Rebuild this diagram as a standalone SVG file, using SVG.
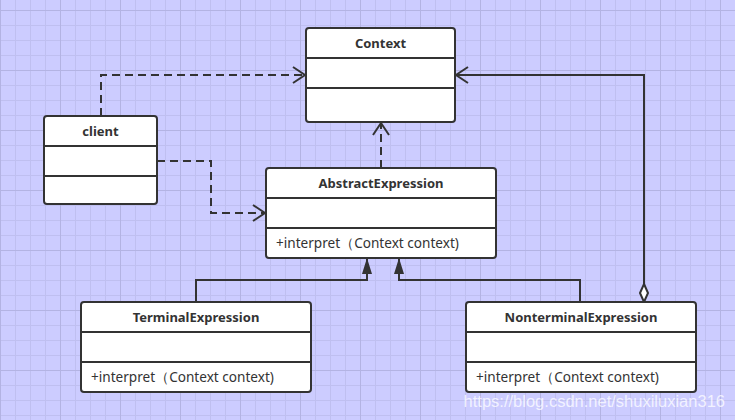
<svg xmlns="http://www.w3.org/2000/svg" width="735" height="420" viewBox="0 0 735 420">
<defs>
<pattern id="minor" x="0" y="10" width="15" height="15" patternUnits="userSpaceOnUse">
<path d="M0 0.5H15M0.5 0V15" fill="none" stroke="#bfbff0" stroke-width="1"/>
</pattern>
<pattern id="major" x="0" y="10" width="60" height="60" patternUnits="userSpaceOnUse">
<path d="M0 0.5H60M0.5 0V60" fill="none" stroke="#b3b3e3" stroke-width="1"/>
</pattern>
<marker id="open" markerWidth="16" markerHeight="20" refX="13" refY="10" orient="auto" markerUnits="userSpaceOnUse">
<path d="M1 2L13 10L1 18" fill="none" stroke="#333" stroke-width="2"/>
</marker>
<marker id="tri" markerWidth="12" markerHeight="18" refX="6" refY="1" orient="0" markerUnits="userSpaceOnUse">
<path d="M6 1L11 17L1 17Z" fill="#333"/>
</marker>
<marker id="diam" markerWidth="10" markerHeight="20" refX="5" refY="19" orient="0" markerUnits="userSpaceOnUse">
<path d="M5 1L9 10L5 19L1 10Z" fill="#fff" stroke="#333" stroke-width="2"/>
</marker>
</defs>
<style>
.box{fill:#fff;stroke:#333;stroke-width:2}
.div{stroke:#333;stroke-width:2}
.title{font-family:"Noto Sans","Liberation Sans",sans-serif;font-size:13px;font-weight:bold;fill:#333;text-anchor:middle}
.op{font-family:"Noto Sans","Liberation Sans",sans-serif;font-size:13.6px;fill:#333}
.dash{fill:none;stroke:#333;stroke-width:2;stroke-dasharray:8 5}
.solid{fill:none;stroke:#333;stroke-width:2}
</style>
<rect width="735" height="420" fill="#ccccff"/>
<rect width="735" height="420" fill="url(#minor)"/>
<rect width="735" height="420" fill="url(#major)"/>

<g id="connectors">
<path class="dash" d="M101 116V75H305" marker-end="url(#open)"/>
<path class="dash" d="M157 161H211V213H265" marker-end="url(#open)"/>
<path class="dash" d="M381 168V123" marker-end="url(#open)"/>
<path class="solid" d="M644 284V75H456" marker-end="url(#open)"/>
<path class="solid" d="M644 302V284" marker-start="url(#diam)"/>
<path class="solid" d="M196 302V280H367V258" marker-end="url(#tri)"/>
<path class="solid" d="M580 302V280H399V258" marker-end="url(#tri)"/>
</g>

<g id="Context">
<rect class="box" x="306" y="28" width="149" height="94" rx="3"/>
<path class="div" d="M306 58H455M306 88H455"/>
<text class="title" x="380.5" y="48">Context</text>
</g>

<g id="client">
<rect class="box" x="44" y="116" width="113" height="88" rx="3"/>
<path class="div" d="M44 146H157M44 176H157"/>
<text class="title" x="100.5" y="136">client</text>
</g>

<g id="AbstractExpression">
<rect class="box" x="266" y="168" width="230" height="90" rx="3"/>
<path class="div" d="M266 198H496M266 228H496"/>
<text class="title" x="381" y="188">AbstractExpression</text>
<text class="op" x="276" y="248">+interpret（Context context)</text>
</g>

<g id="TerminalExpression">
<rect class="box" x="81" y="302" width="230" height="90" rx="3"/>
<path class="div" d="M81 332H311M81 362H311"/>
<text class="title" x="196" y="322">TerminalExpression</text>
<text class="op" x="91" y="382">+interpret（Context context)</text>
</g>

<g id="NonterminalExpression">
<rect class="box" x="466" y="302" width="230" height="90" rx="3"/>
<path class="div" d="M466 332H696M466 362H696"/>
<text class="title" x="581" y="322">NonterminalExpression</text>
<text class="op" x="476" y="382">+interpret（Context context)</text>
</g>

<text x="725" y="407" font-family="Liberation Sans, Arial, sans-serif" font-size="16.5" fill="#ffffff" fill-opacity="0.75" text-anchor="end">https://blog.csdn.net/shuxiluxian316</text>
</svg>
